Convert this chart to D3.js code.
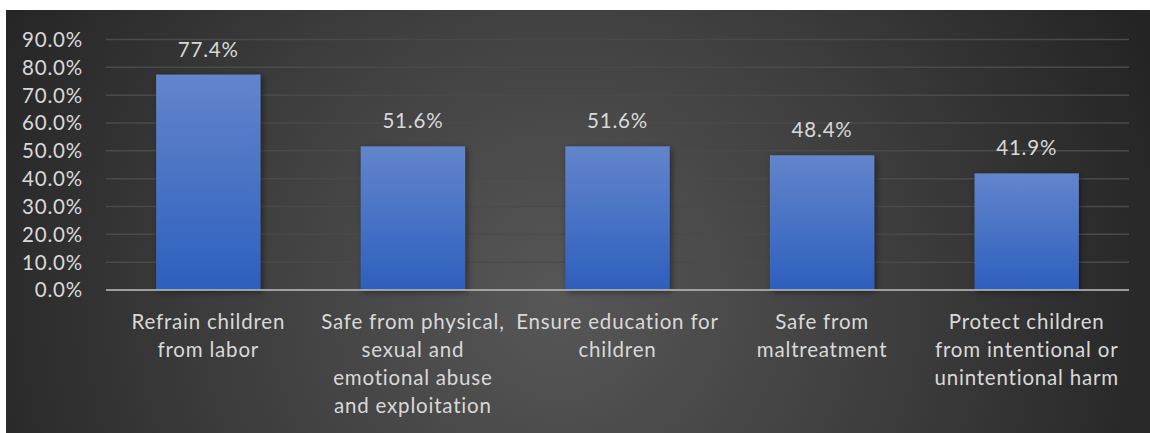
<!DOCTYPE html>
<html>
<head>
<meta charset="utf-8">
<script src="https://cdn.jsdelivr.net/npm/d3@7/dist/d3.min.js"></script>
<style>
  html, body { margin: 0; padding: 0; background: #ffffff; }
  svg { display: block; }
  text { font-family: Lato, "Open Sans", sans-serif; fill: #d9d9d9; letter-spacing: 0.8px; }
</style>
</head>
<body>
<svg id="chart" width="1150" height="433"></svg>
<script>
// Categories (wrapped into lines for the x axis) and the share for each
const categories = [
  ["Refrain children", "from labor"],
  ["Safe from physical,", "sexual and", "emotional abuse", "and exploitation"],
  ["Ensure education for", "children"],
  ["Safe from", "maltreatment"],
  ["Protect children", "from intentional or", "unintentional harm"]
];
const values = [77.4, 51.6, 51.6, 48.4, 41.9];
const yTicks = [0, 10, 20, 30, 40, 50, 60, 70, 80, 90];

const svg = d3.select("#chart");
const W = 1150, H = 433;
const panel = { x: 6, y: 10, w: W - 6, h: H - 10 };
const plot = { left: 106, right: 1129, top: 39.5, bottom: 290 };
const fontSize = 20.5;

const defs = svg.append("defs");

// Dark radial backdrop, lighter towards the middle
const bg = defs.append("radialGradient")
  .attr("id", "bgGrad")
  .attr("gradientUnits", "userSpaceOnUse")
  .attr("cx", 560).attr("cy", 300).attr("r", 640);
bg.append("stop").attr("offset", 0).attr("stop-color", "#575757");
bg.append("stop").attr("offset", 0.55).attr("stop-color", "#3c3c3c");
bg.append("stop").attr("offset", 1).attr("stop-color", "#242424");

// Vertical fill for the bars
const barGrad = defs.append("linearGradient")
  .attr("id", "barGrad")
  .attr("x1", 0).attr("y1", 0).attr("x2", 0).attr("y2", 1);
barGrad.append("stop").attr("offset", 0).attr("stop-color", "#6385cc");
barGrad.append("stop").attr("offset", 1).attr("stop-color", "#2d5fbd");

// Soft drop shadow under each bar
const shadow = defs.append("filter")
  .attr("id", "barShadow")
  .attr("x", "-20%").attr("y", "-20%").attr("width", "140%").attr("height", "140%");
shadow.append("feDropShadow")
  .attr("dx", 2).attr("dy", 2).attr("stdDeviation", 3)
  .attr("flood-color", "#000").attr("flood-opacity", 0.45);

svg.append("rect")
  .attr("x", panel.x).attr("y", panel.y)
  .attr("width", panel.w).attr("height", panel.h)
  .attr("fill", "url(#bgGrad)");

const x = d3.scaleBand()
  .domain(d3.range(values.length))
  .range([plot.left, plot.right])
  .paddingInner(0.49)
  .paddingOuter(0.245);

const y = d3.scaleLinear()
  .domain([0, 90])
  .range([plot.bottom, plot.top]);

// Horizontal gridlines
svg.append("g")
  .selectAll("line")
  .data(yTicks.filter(d => d > 0))
  .join("line")
  .attr("x1", plot.left).attr("x2", plot.right)
  .attr("y1", d => y(d)).attr("y2", d => y(d))
  .attr("stroke", "#4a4a4a")
  .attr("stroke-width", 1.5);

// Y axis tick labels
const yAxis = d3.axisLeft(y)
  .tickValues(yTicks)
  .tickFormat(d => d.toFixed(1) + "%")
  .tickSize(0)
  .tickPadding(0);
const yg = svg.append("g")
  .attr("transform", `translate(83,0)`)
  .call(yAxis);
yg.select(".domain").remove();
yg.selectAll("text")
  .attr("font-size", fontSize)
  .attr("fill", "#d9d9d9")
  .attr("font-family", "Lato, 'Open Sans', sans-serif")
  .attr("dy", "0.34em");

// Bars
svg.append("g")
  .selectAll("rect")
  .data(values)
  .join("rect")
  .attr("x", (d, i) => x(i))
  .attr("y", d => y(d))
  .attr("width", x.bandwidth())
  .attr("height", d => y(0) - y(d))
  .attr("fill", "url(#barGrad)")
  .attr("filter", "url(#barShadow)");

// Baseline axis
svg.append("line")
  .attr("x1", plot.left).attr("x2", plot.right)
  .attr("y1", y(0)).attr("y2", y(0))
  .attr("stroke", "#b0b0b0")
  .attr("stroke-opacity", 0.85)
  .attr("stroke-width", 2);

// Value labels above bars
svg.append("g")
  .selectAll("text")
  .data(values)
  .join("text")
  .attr("x", (d, i) => x(i) + x.bandwidth() / 2)
  .attr("y", d => y(d) - 18)
  .attr("text-anchor", "middle")
  .attr("font-size", fontSize)
  .text(d => d.toFixed(1) + "%");

// Category labels beneath the axis
const cat = svg.append("g")
  .selectAll("text")
  .data(categories)
  .join("text")
  .attr("x", (d, i) => x(i) + x.bandwidth() / 2)
  .attr("y", 329)
  .attr("text-anchor", "middle")
  .attr("font-size", fontSize);
cat.selectAll("tspan")
  .data(d => d)
  .join("tspan")
  .attr("x", function () { return d3.select(this.parentNode).attr("x"); })
  .attr("dy", (d, i) => i === 0 ? 0 : 28)
  .text(d => d);
</script>
</body>
</html>
